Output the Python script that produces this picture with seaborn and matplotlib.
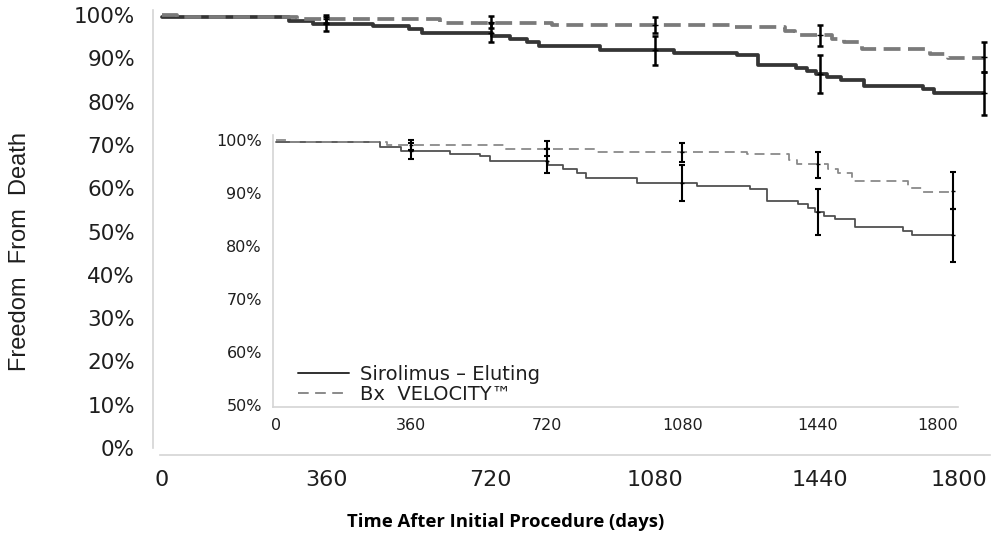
import numpy as np
import pandas as pd
import matplotlib
matplotlib.use("Agg")
import matplotlib.pyplot as plt
from matplotlib.lines import Line2D
from matplotlib.transforms import ScaledTranslation
from matplotlib.ticker import MultipleLocator, PercentFormatter
import seaborn as sns

# ---------------- data ----------------
series_names = ["Sirolimus \u2013 Eluting", "Bx  VELOCITY\u2122"]

times_se = [0, 277, 331, 462, 541, 570, 723, 762, 800, 825, 960, 1120, 1260,
            1305, 1388, 1413, 1432, 1456, 1486, 1538, 1667, 1691, 1800]
surv_se = [99.6, 98.7, 98.0, 97.4, 96.9, 96.0, 95.2, 94.6, 93.7, 92.8, 91.9,
           91.3, 90.7, 88.5, 87.9, 87.2, 86.5, 85.7, 85.0, 83.6, 82.9, 82.1, 82.1]

times_bx = [0, 32, 295, 609, 853, 1252, 1365, 1385, 1468, 1494, 1532, 1681, 1721, 1800]
surv_bx = [100.0, 99.6, 99.1, 98.3, 97.7, 97.3, 96.3, 95.4, 94.6, 93.7, 92.3,
           91.0, 90.2, 90.2]

err_times = [360, 720, 1080, 1440, 1800]
se_center = [98.0, 96.0, 91.9, 86.5, 82.1]
se_low = [96.4, 93.7, 88.5, 82.1, 77.0]
se_high = [99.5, 98.3, 95.3, 90.7, 86.9]
bx_center = [99.1, 98.5, 97.7, 95.4, 90.3]
bx_low = [98.1, 97.0, 95.9, 92.8, 86.9]
bx_high = [100.0, 99.9, 99.5, 97.8, 93.9]

x_ticks = [0, 360, 720, 1080, 1440, 1800]

df = pd.concat([
    pd.DataFrame({"days": times_se, "surv": surv_se, "group": series_names[0]}),
    pd.DataFrame({"days": times_bx, "surv": surv_bx, "group": series_names[1]}),
])

# ---------------- figure ----------------
sns.set_style("white")
plt.rcParams["font.family"] = ["DejaVu Sans"]

W, H = 997, 539
fig = plt.figure(figsize=(W / 100, H / 100), dpi=100)

SPINE = "#d4d4d4"
TXT = "#1e1e1e"


def px_axes(left, right, top, bottom):
    return [left / W, 1 - bottom / H, (right - left) / W, (bottom - top) / H]


def style_axes(ax, fs, ticklen, xpad, ypad):
    for s in ["top", "right"]:
        ax.spines[s].set_visible(False)
    for s in ["left", "bottom"]:
        ax.spines[s].set_color(SPINE)
        ax.spines[s].set_linewidth(1.2)
    ax.tick_params(axis="both", colors=SPINE, labelcolor=TXT, labelsize=fs,
                   length=ticklen, width=1.0, direction="out")
    ax.tick_params(axis="x", pad=xpad)
    ax.tick_params(axis="y", pad=ypad)
    ax.tick_params(axis="x", which="minor", colors=SPINE, length=ticklen, width=1.0)
    ax.set_xlabel("")
    ax.set_ylabel("")


def draw(ax, lw_solid, lw_dash, c_solid, c_dash, dash, elw, cap):
    sub = df[df["group"] == series_names[0]]
    sns.lineplot(data=sub, x="days", y="surv", ax=ax, color=c_solid,
                 linewidth=lw_solid, drawstyle="steps-post", estimator=None,
                 legend=False)
    sub = df[df["group"] == series_names[1]]
    sns.lineplot(data=sub, x="days", y="surv", ax=ax, color=c_dash,
                 linewidth=lw_dash, drawstyle="steps-post", estimator=None,
                 linestyle=(0, dash), legend=False)
    for c, lo, hi in [(se_center, se_low, se_high), (bx_center, bx_low, bx_high)]:
        c = np.array(c)
        yerr = np.vstack([c - np.array(lo), np.array(hi) - c])
        ax.errorbar(err_times, c, yerr=yerr, fmt="_", color="black",
                    markersize=cap * 1.6, elinewidth=elw, capsize=cap,
                    capthick=elw, zorder=5)


# main axes
ax = fig.add_axes(px_axes(160, 990, 10, 448))
draw(ax, 2.7, 2.7, "#353535", "#7a7a7a", (4.5, 2.0), 1.8, 2.5)
ax.set_xlim(-4.4, 1813)
ax.set_ylim(0, 101.2)
ax.set_xticks(x_ticks)
ax.xaxis.set_minor_locator(MultipleLocator(180))
ax.yaxis.set_major_locator(MultipleLocator(10))
ax.yaxis.set_major_formatter(PercentFormatter(decimals=0))
style_axes(ax, 16, 5, 6, 8)
ax.tick_params(axis="y", labelsize=15.5)
ax.spines["bottom"].set_position(("outward", 5))
ax.spines["left"].set_position(("outward", 5))
lbls = ax.get_xticklabels()
lbls[-1].set_horizontalalignment("right")
lbls[-1].set_transform(lbls[-1].get_transform() + ScaledTranslation(2 / 72, 0, fig.dpi_scale_trans))

# inset axes
axi = fig.add_axes(px_axes(273, 958, 135, 407))
axi.set_facecolor("white")
draw(axi, 1.3, 1.3, "#505050", "#8a8a8a", (5.5, 3.3), 1.5, 2.2)
axi.set_xlim(-8, 1813)
axi.set_ylim(49.6, 100.95)
axi.set_xticks(x_ticks)
axi.xaxis.set_minor_locator(MultipleLocator(180))
axi.yaxis.set_major_locator(MultipleLocator(10))
axi.yaxis.set_major_formatter(PercentFormatter(decimals=0))
style_axes(axi, 11.5, 3, 5, 5)
lbls = axi.get_xticklabels()
lbls[-1].set_transform(lbls[-1].get_transform() + ScaledTranslation(-11 / 72, 0, fig.dpi_scale_trans))

handles = [
    Line2D([], [], color="#303030", linewidth=1.4),
    Line2D([], [], color="#8a8a8a", linewidth=1.4, linestyle=(0, (5.5, 3.3))),
]
leg = axi.legend(handles, series_names, loc="lower left",
                 bbox_to_anchor=(298 / W, 1 - 404 / H), bbox_transform=fig.transFigure,
                 frameon=False, fontsize=14, handlelength=2.6, handletextpad=0.6,
                 labelspacing=0.05, borderpad=0, borderaxespad=0)
for t in leg.get_texts():
    t.set_color(TXT)

# axis titles
fig.text(20 / W, 1 - 252 / H, "Freedom  From  Death", rotation=90, ha="center",
         va="center", fontsize=17, color=TXT, family=["Liberation Sans", "DejaVu Sans"])
fig.text(506 / W, 1 - 522 / H, "Time After Initial Procedure (days)", ha="center",
         va="center", fontsize=13.3, fontweight="bold", color="black",
         family=["Open Sans", "DejaVu Sans"])

fig.savefig("out.png", dpi=100, facecolor="white")
